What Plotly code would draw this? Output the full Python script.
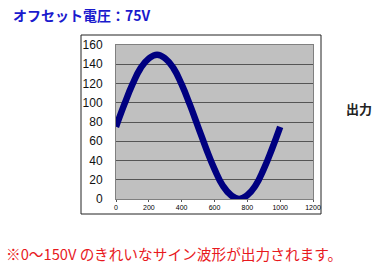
import plotly.graph_objects as go

# Data
x_vals = [0, 50, 100, 150, 200, 250, 300, 350, 400, 450, 500,
          550, 600, 650, 700, 750, 800, 850, 900, 950, 1000]
y_vals = [75, 98, 119, 136, 146, 150, 146, 136, 119, 98, 75,
          52, 31, 14, 4, 0, 4, 14, 31, 52, 75]
x_ticks = [0, 200, 400, 600, 800, 1000, 1200]
y_ticks = [0, 20, 40, 60, 80, 100, 120, 140, 160]

title_text = "オフセット電圧：75V"
side_text = "出力"
footer_text = "※0～150V のきれいなサイン波形が出力されます。"

W, H = 385, 265
L, R, T, B = 116, 313, 45, 199


def px(x):
    return (x - L) / (R - L)


def py(y):
    return (B - y) / (B - T)


fig = go.Figure()
fig.add_trace(go.Scatter(
    x=x_vals, y=y_vals, mode="lines",
    line=dict(color="#000080", width=6.5, shape="spline", smoothing=1.3),
    hoverinfo="skip", showlegend=False,
))

fig.update_layout(
    width=W, height=H,
    margin=dict(l=L, r=W - R, t=T, b=H - B),
    paper_bgcolor="white",
    plot_bgcolor="#c0c0c0",
    showlegend=False,
    xaxis=dict(
        range=[0, 1200], tickvals=x_ticks, ticktext=[str(v) for v in x_ticks],
        showgrid=False, zeroline=False,
        showline=True, linecolor="#808080", linewidth=1, mirror=True,
        ticks="outside", ticklen=2, tickcolor="#555",
        tickfont=dict(family="Liberation Sans", size=7, color="#000"),
    ),
    yaxis=dict(
        range=[0, 160], tickvals=y_ticks,
        showgrid=True, gridcolor="#555555", gridwidth=1, zeroline=False,
        showline=True, linecolor="#808080", linewidth=1, mirror=True,
        ticks="", ticklabelstandoff=10,
        tickfont=dict(family="Liberation Sans", size=12, color="#111"),
    ),
    shapes=[dict(
        type="rect", xref="paper", yref="paper",
        x0=px(81), x1=px(321), y0=py(214), y1=py(35),
        line=dict(color="#222", width=1), fillcolor="rgba(0,0,0,0)", layer="below",
    )],
    annotations=[
        dict(text="<b>" + title_text + "</b>", xref="paper", yref="paper",
             x=px(11), y=py(15), xanchor="left", yanchor="middle", showarrow=False,
             font=dict(family="Noto Sans CJK JP", size=14, color="#1a1acd")),
        dict(text="<b>" + side_text + "</b>", xref="paper", yref="paper",
             x=px(344), y=py(108), xanchor="left", yanchor="middle", showarrow=False,
             font=dict(family="Noto Sans CJK JP", size=13, color="#222")),
        dict(text=footer_text, xref="paper", yref="paper",
             x=px(4), y=py(253), xanchor="left", yanchor="middle", showarrow=False,
             font=dict(family="Noto Sans CJK JP", size=14.7, color="#e8191e")),
    ],
)

fig.write_html("out.html")
